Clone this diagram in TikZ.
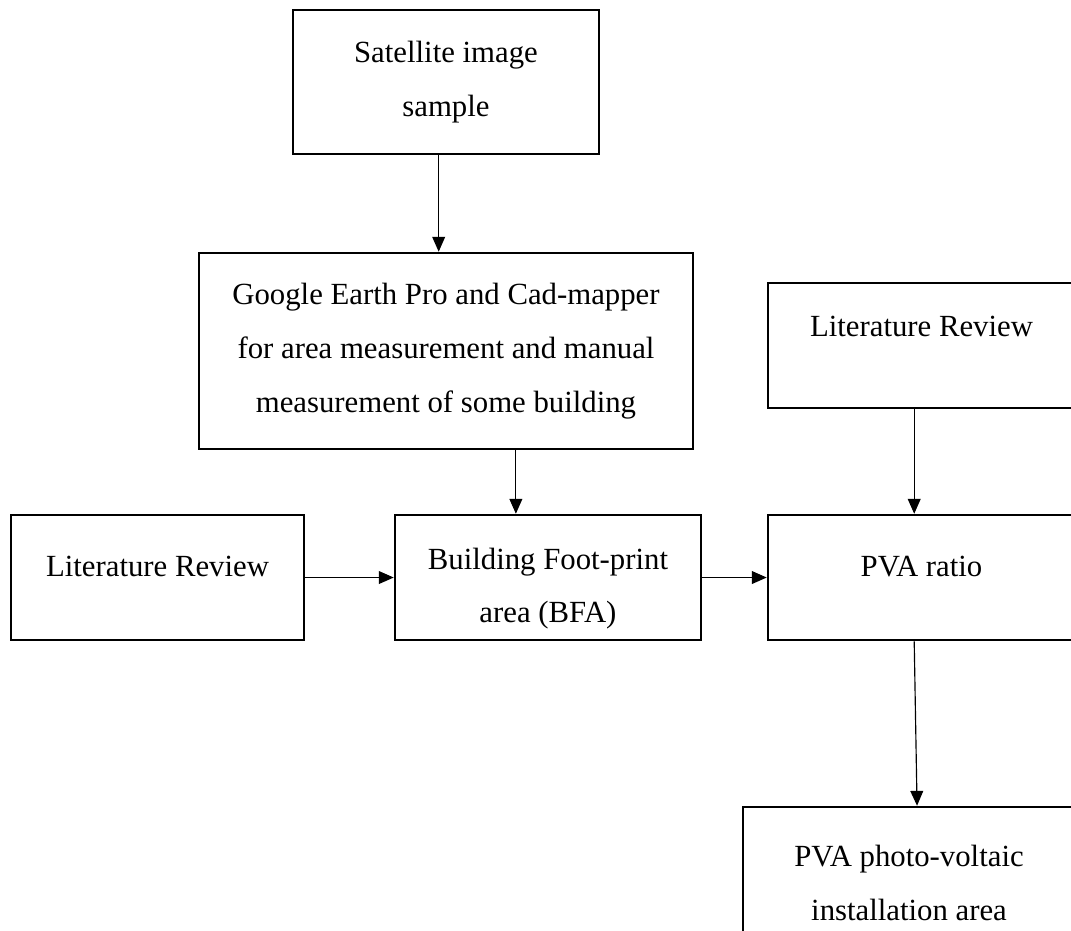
\documentclass[tikz,border=0pt]{standalone}
\usepackage{fontspec}
\setmainfont{Liberation Serif}
\usetikzlibrary{arrows.meta}

\tikzset{
  box/.style={draw, line width=1pt, align=center, inner sep=2pt,
    font=\fontsize{12}{21}\selectfont},
  arr/.style={-{Triangle[length=5.8pt,width=5pt]}, line width=0.45pt},
}

\begin{document}
\begin{tikzpicture}
\useasboundingbox (0,0) rectangle (14.68,-12.761);
\clip (0,0) rectangle (14.68,-12.761);
% boxes
\node[box, minimum width=4.194cm, minimum height=1.974cm] (sat) at (6.113,-1.124) {Satellite image\\sample};
\node[box, minimum width=6.771cm, minimum height=2.687cm] (goo) at (6.113,-4.811)
  {Google Earth Pro and Cad-mapper\\for area measurement and manual\\measurement of some building};
\node[box, minimum width=4.016cm, minimum height=1.713cm, text depth=8.6pt] (litL) at (2.159,-7.916) {Literature Review};
\node[box, minimum width=4.194cm, minimum height=1.713cm] (bld) at (7.511,-7.916) {\rule{0pt}{17pt}Building Foot-print\\area (BFA)};
\node[box, minimum width=4.208cm, minimum height=1.713cm, text depth=8.6pt] (pvr) at (12.631,-7.916) {PVA ratio};
\node[box, minimum width=4.208cm, minimum height=1.713cm, text depth=14.6pt] (litR) at (12.631,-4.736) {Literature Review};
\node[box, minimum width=4.551cm, minimum height=2.07cm] (pvi) at (12.46,-12.097) {PVA photo-voltaic\\installation area};
% arrows
\coordinate (bldIn) at ([xshift=-0.44cm]bld.north);
\draw[arr] ([xshift=-0.1cm]sat.south) -- ([xshift=-0.1cm]goo.north);
\draw[arr] (goo.south -| bldIn) -- (bldIn);
\draw[arr] (litL) -- (bld);
\draw[arr] (bld) -- (pvr);
\draw[arr] ([xshift=-0.1cm]litR.south) -- ([xshift=-0.1cm]pvr.north);
\draw[arr] ([xshift=-0.1cm]pvr.south) -- ([xshift=0.11cm]pvi.north);
\end{tikzpicture}
\end{document}
